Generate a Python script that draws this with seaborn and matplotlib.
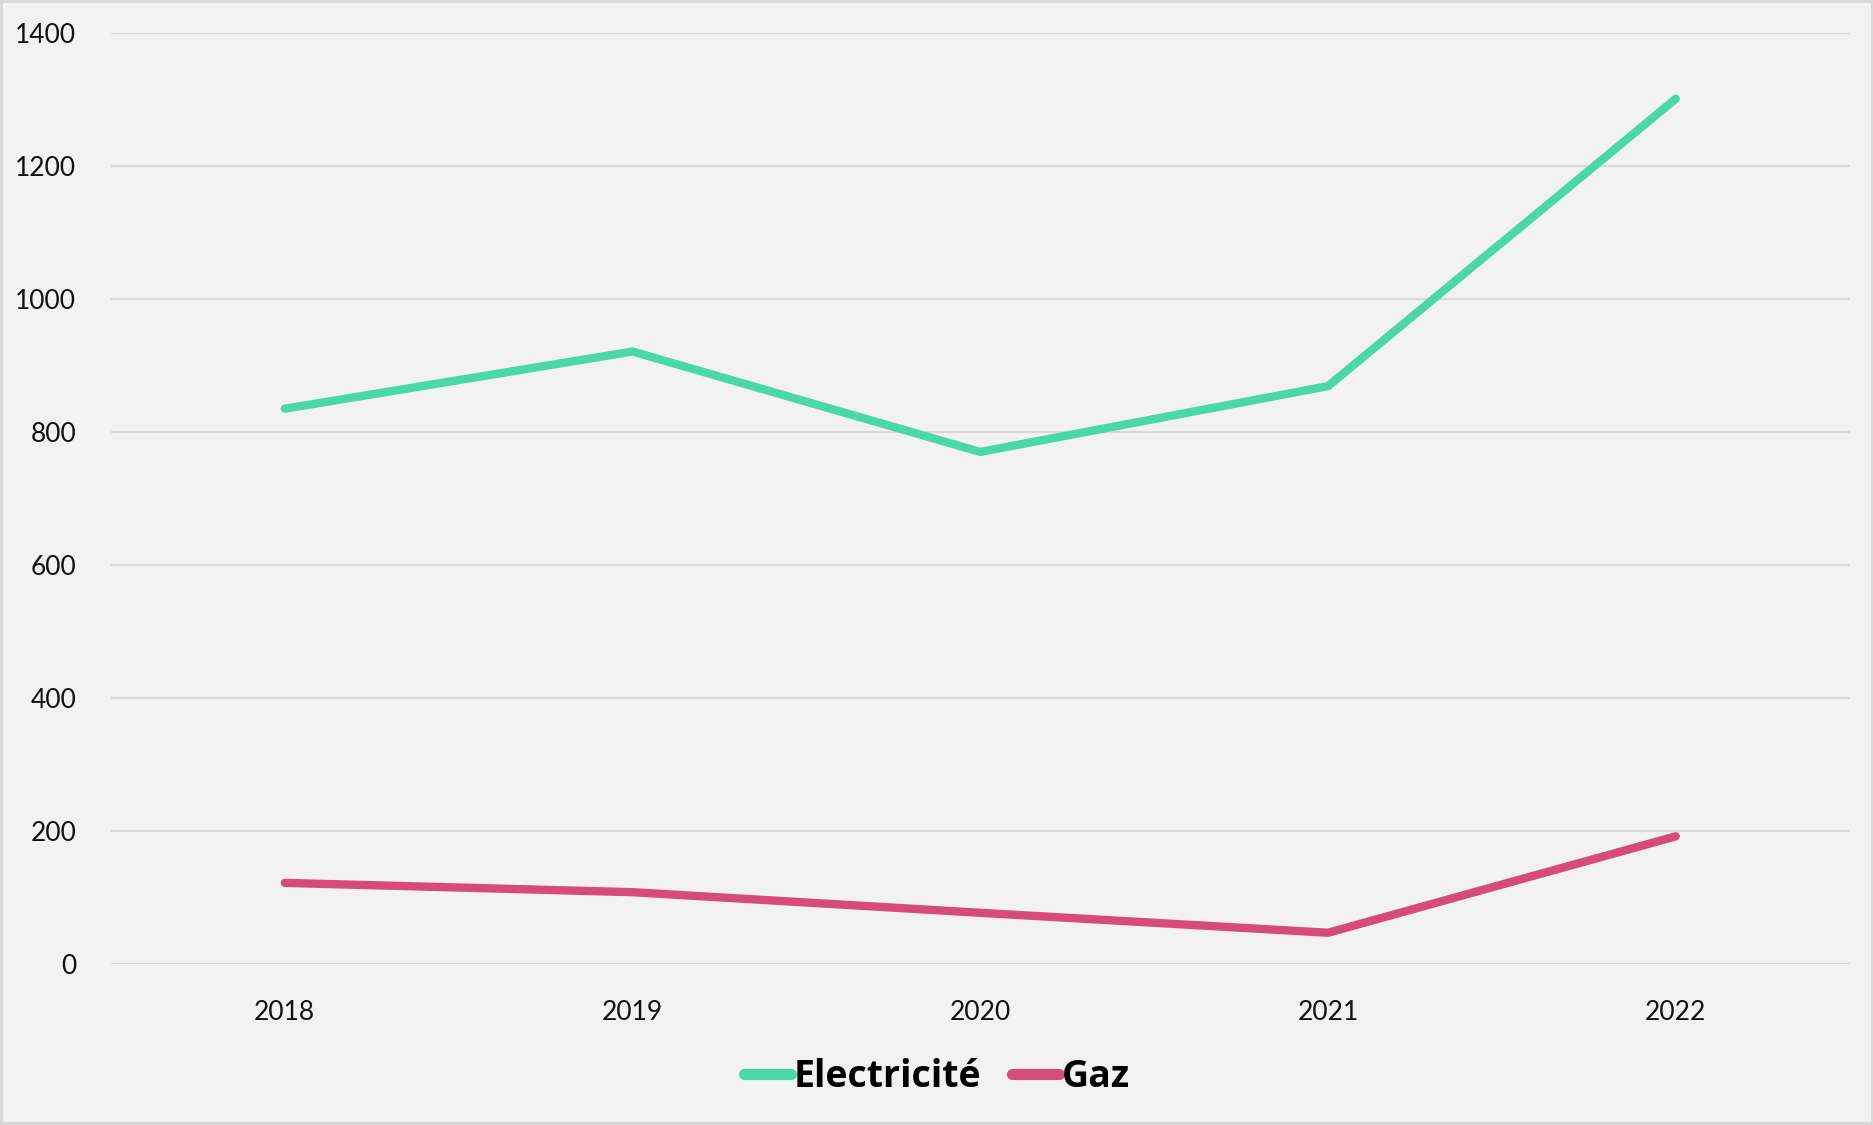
import matplotlib
matplotlib.use("Agg")
import matplotlib.pyplot as plt
import seaborn as sns
import pandas as pd
from matplotlib.lines import Line2D

years = ["2018", "2019", "2020", "2021", "2022"]
electricite = [835, 921, 770, 869, 1301]
gaz = [122, 108, 77, 47, 192]
series_names = ["Electricité", "Gaz"]
colors = ["#4bd8a9", "#d64b79"]
yticks = [0, 200, 400, 600, 800, 1000, 1200, 1400]

df = pd.DataFrame({
    "year": years * 2,
    "value": electricite + gaz,
    "series": [series_names[0]] * len(years) + [series_names[1]] * len(years),
})

sns.set_theme(style="white")
plt.rcParams["font.family"] = ["Lato", "DejaVu Sans"]

fig = plt.figure(figsize=(18.74, 11.25), dpi=100, facecolor="#f2f2f2")
fig.patch.set_edgecolor("#d9d9d9")
fig.patch.set_linewidth(3)
ax = fig.add_axes([0.0592, 0.1431, 0.9278, 0.8276])
ax.set_facecolor("#f2f2f2")

sns.lineplot(data=df, x="year", y="value", hue="series", palette=colors,
             linewidth=6, ax=ax, sort=False, legend=False)
for line in ax.get_lines():
    line.set_solid_capstyle("round")
    line.set_solid_joinstyle("miter")

ax.set_xlim(-0.5, len(years) - 0.5)
ax.set_ylim(0, 1400)
ax.set_yticks(yticks)
ax.set_yticklabels([str(v) for v in yticks])
ax.grid(axis="y", color="#d9d9d9", linewidth=1.5)
ax.grid(axis="x", visible=False)
ax.set_axisbelow(True)
for s in ax.spines.values():
    s.set_visible(False)
ax.tick_params(axis="both", length=0, labelsize=19, colors="#111111")
ax.tick_params(axis="y", pad=25)
ax.tick_params(axis="x", pad=26)
ax.set_xlabel("")
ax.set_ylabel("")

handles = [Line2D([0], [0], color=c, linewidth=8, solid_capstyle="round") for c in colors]
leg = fig.legend(handles, series_names, loc="center", bbox_to_anchor=(0.5, 0.043),
                 ncol=2, frameon=False, handlelength=1.25, handletextpad=0.08,
                 columnspacing=0.8,
                 prop={"size": 27, "weight": "bold", "family": ["Open Sans", "DejaVu Sans"]})
for t in leg.get_texts():
    t.set_color("#000000")

fig.savefig("out.png", dpi=100, facecolor=fig.get_facecolor(), edgecolor=fig.get_edgecolor())
